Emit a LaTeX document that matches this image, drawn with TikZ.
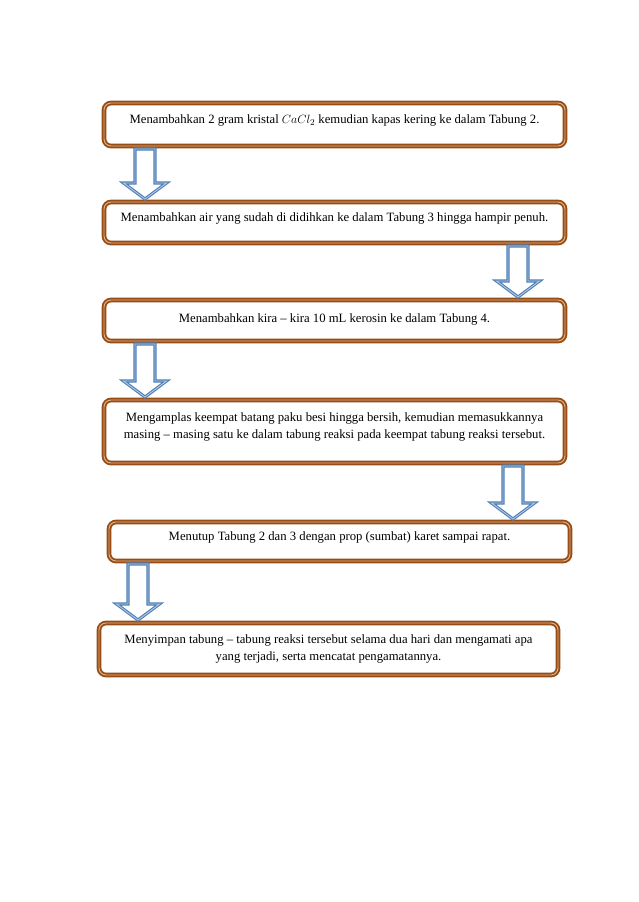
\documentclass[tikz,border=0pt]{standalone}
\usepackage{fontspec}
\setmainfont{Liberation Serif}
\usetikzlibrary{calc,positioning}
\definecolor{boxbrown}{HTML}{974D16}
\definecolor{boxtan}{HTML}{E2B48A}
\definecolor{arrowblue}{HTML}{4F7FB8}
\definecolor{arrowlight}{HTML}{B4C8E2}

\tikzset{
  stepbox/.style={draw=boxbrown,double=boxtan,double distance=0.9pt,line width=1.9pt,
    rounded corners=7pt,fill=white,align=center,outer sep=0pt,inner sep=0pt,
    text depth=10pt,font=\fontsize{12.7}{17}\selectfont},
  blockarrow/.style={draw=arrowblue,double=arrowlight,double distance=0.9pt,
    line width=1.1pt,fill=white,line join=miter}
}

% block arrow between two boxes: x position, upper box, lower box
\newcommand{\flowarrow}[3]{%
  \coordinate (ax) at (#1,0);
  \coordinate (at) at ($(#2.south -| ax)+(0,3)$);
  \coordinate (ab) at ($(#3.north -| ax)+(0,-3)$);
  \filldraw[blockarrow] ($(at)+(-10,0)$) -- ($(at)+(10,0)$) -- ($(ab)+(10,-16)$)
    -- ($(ab)+(21.5,-16)$) -- (ab) -- ($(ab)+(-21.5,-16)$) -- ($(ab)+(-10,-16)$) -- cycle;
}

\begin{document}
\begin{tikzpicture}[x=1pt,y=-1pt]
 \useasboundingbox (0,0) rectangle (638,902);
 \node[stepbox,minimum width=461pt,minimum height=43pt] (b1) at (334.5,124.5)
   {Menambahkan 2 gram kristal $CaCl_2$ kemudian kapas kering ke dalam Tabung 2.};
 \node[stepbox,minimum width=461pt,minimum height=41pt] (b2) at (334.5,222.5)
   {Menambahkan air yang sudah di didihkan ke dalam Tabung 3 hingga hampir penuh.};
 \node[stepbox,minimum width=461pt,minimum height=41pt,text depth=4pt] (b3) at (334.5,320.5)
   {Menambahkan kira – kira 10 mL kerosin ke dalam Tabung 4.};
 \node[stepbox,minimum width=461pt,minimum height=63pt,text depth=11pt] (b4) at (334.5,431.5)
   {Mengamplas keempat batang paku besi hingga bersih, kemudian memasukkannya\\
    masing – masing satu ke dalam tabung reaksi pada keempat tabung reaksi tersebut.};
 \node[stepbox,minimum width=461pt,minimum height=39pt] (b5) at (339.5,541.5)
   {Menutup Tabung 2 dan 3 dengan prop (sumbat) karet sampai rapat.};
 \node[stepbox,minimum width=459pt,minimum height=52pt,text depth=3.5pt] (b6) at (328.5,649)
   {Menyimpan tabung – tabung reaksi tersebut selama dua hari dan mengamati apa\\
    yang terjadi, serta mencatat pengamatannya.};
 \flowarrow{145}{b1}{b2}
 \flowarrow{518}{b2}{b3}
 \flowarrow{145}{b3}{b4}
 \flowarrow{513}{b4}{b5}
 \flowarrow{138}{b5}{b6}
\end{tikzpicture}
\end{document}
